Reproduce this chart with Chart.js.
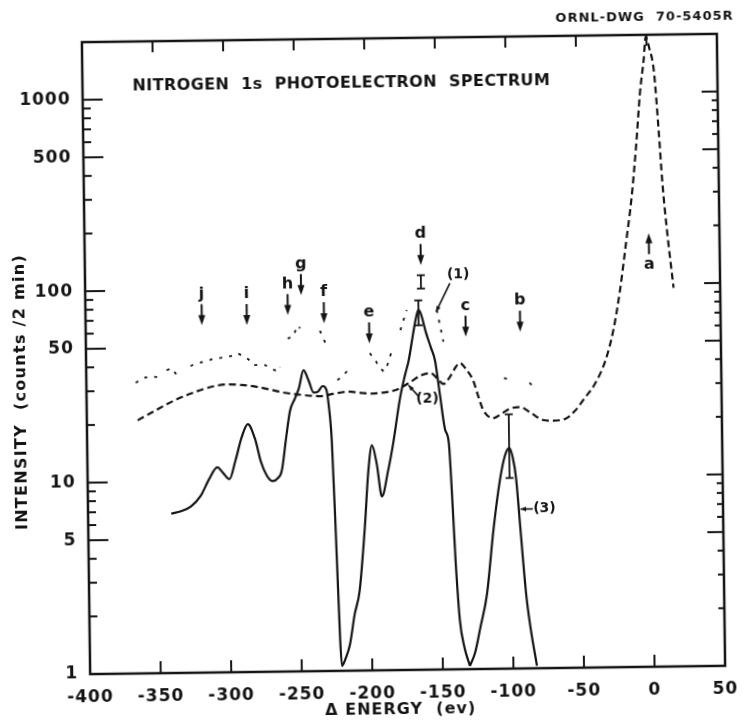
<!DOCTYPE html>
<html>
<head>
<meta charset="utf-8">
<script src="https://cdn.jsdelivr.net/npm/chart.js@4.4.1/dist/chart.umd.min.js"></script>
<style>
  html, body { margin: 0; padding: 0; background: #fff; overflow: hidden; }
  /* the scanned drawing sits slightly tilted on the page */
  #chart { display: block; transform: rotate(-0.75deg); transform-origin: 403px 354px; }
</style>
</head>
<body>
<canvas id="chart" width="744" height="722"></canvas>
<script>
const INK = "#141414";

// solid curve (1): -340 .. -131 eV
const curve1X = [-341, -334, -327, -320, -314, -308, -303.5, -299.5, -295, -290.5, -286, -281, -277, -273, -269, -265.5, -262.3,
  -259, -256, -252.5, -249.5, -246, -242.5, -239, -236, -232.5, -230, -228.6, -226.6, -224.3, -222.5, -221.5, -219, -215.6,
  -212, -208.3, -204, -201, -198.2, -195, -191.6, -187, -183, -178, -174, -171.5, -168, -166, -164, -162, -159, -155.5,
  -152.7, -149.5, -146.3, -143.7, -142, -140, -137.5, -134.5, -130.8];
const curve1Y = [6.8, 7.0, 7.4, 8.4, 10.2, 11.8, 10.9, 10.2, 12.8, 16.8, 19.7, 16.5, 12.5, 10.6, 9.9, 10.2, 11.2,
  16.5, 22.9, 26.5, 30, 37.4, 33, 28.5, 28.8, 30.8, 29.5, 25, 15.9, 4.3, 1.45, 1.06, 1.15, 1.37,
  1.97, 2.6, 5.6, 11, 15, 12, 8.1, 11, 15.5, 26, 35, 41, 57, 68, 76, 71, 58, 48,
  41, 27, 18, 15.2, 8.5, 3.7, 1.8, 1.3, 1.04];

// solid curve (3)
const curve3X = [-130.8, -127, -123.1, -118.1, -112.7, -107.6, -104, -100.9, -98.5, -96.4, -93.8, -90.3, -87.5, -83.3];
const curve3Y = [1.04, 1.22, 1.64, 2.45, 5.46, 9.9, 13, 14.2, 12.6, 9.9, 5.4, 2.44, 1.63, 1.03];

// dashed curve (2) with the main line a
const curve2X = [-364, -355, -348, -338, -328, -314, -300, -290, -282, -270, -261, -248, -235, -225, -215, -205, -199,
  -190, -181, -170, -163, -156, -151, -147, -142, -138, -135, -131, -126, -122, -119, -112, -106, -100, -93, -85, -77,
  -70, -61, -54, -47, -40, -32, -26, -21, -16, -12, -8, -5, -2, -0.5, 2, 5, 8, 10, 13, 17];
const curve2Y = [21, 22.8, 24.3, 26.5, 28.4, 30.7, 31.9, 31.6, 31.1, 29.8, 28.7, 27.8, 27.3, 28, 28.7, 28.2, 27.9,
  28.2, 29, 32, 34.5, 35.4, 33, 31, 34, 38, 39.8, 37, 32.3, 26, 22.5, 20.4, 21.5, 22.8, 23.2, 21.5, 19.8,
  19.6, 20, 22, 25.6, 30, 40, 58, 93, 170, 280, 550, 1000, 1500, 1950, 1700, 1300, 610, 340, 185, 95];

// scattered experimental points (null = gap)
const rawX = [-365, -360, -355, -350, -346, -344.5, -343, -339, -336, -332, -329, -326, -322, -317, -312, -308, -304, -300,
  -296, -293, -289, -285, -281.5, -277, -273, -268, -264, -262.6, -260, -257, -253, -250, -248, -240, -234, -232, -229.4,
  -226, -222, -218, -212, -205, -199, -196, -192, -189, -186, -183.5, -180, -177, -172.3, -160, -151, -146.6, -120,
  -104, -98.4, -92, -86, -82];
const rawY = [33, 34.8, 35.5, 35.2, 34, null, 38.2, 39, 36, 35, null, 40, 41.3, 42, 43, 43.7, 44, 44.5,
  45, 46.3, 45, 43, 40.1, 40, 40, 38, 37, 39, null, 55, 56, 64, 62, null, 60, 55, 50.4,
  null, 33, 35, 38.5, null, 45.3, 43, 38, 36.3, 40, 46, null, 59.6, 75.8, null, 75.5, 51.5, null,
  33, 32.2, null, 31, 29];

// error bars
const errX = [-164, -162, -101];
const errLo = [63, 98, 9.9];
const errHi = [85, 115, 21.3];

// arrow markers: energy, intensity at the arrow tip
const markText = ["j", "i", "h", "g", "f", "e", "d", "c", "b", "a"];
const markX = [-317.6, -285.7, -256.6, -247, -231, -199.1, -161.9, -130.7, -92.1, -0.1];
const markY = [65.3, 64.9, 72.7, 92.3, 65.6, 51.1, 130, 54.5, 57.4, 184];
const markUp = [false, false, false, false, false, false, false, false, false, true];

// curve labels with leader lines
const noteText = ["(1)", "(2)", "(3)"];
const noteX = [-135.5, -158.5, -76.5];
const noteY = [115, 26, 6.8];
const leadX1 = [-141.5, -164.5, -84.8];
const leadY1 = [104, 26.7, 6.8];
const leadX2 = [-151.5, -171.7, -93.5];
const leadY2 = [74, 30.7, 6.8];

// axes
const xTicks = [-350, -300, -250, -200, -150, -100, -50, 0];
const yTicks = [1, 2, 3, 4, 5, 6, 7, 8, 9, 10, 20, 30, 40, 50, 60, 70, 80, 90, 100, 200, 300, 400, 500, 600, 700, 800, 900, 1000];
const yLabels = [1, 5, 10, 50, 100, 500, 1000];

const pairs = (xs, ys) => xs.map((x, i) => ({ x: x, y: ys[i] }));

function line(ctx, x1, y1, x2, y2) {
  ctx.beginPath();
  ctx.moveTo(x1, y1);
  ctx.lineTo(x2, y2);
  ctx.stroke();
}

const inkPlugin = {
  id: "ink",
  beforeDraw(chart) {
    chart.ctx.letterSpacing = "1px";
  },
  afterDraw(chart) {
    const { ctx, chartArea: a, scales: { x, y } } = chart;
    ctx.save();
    ctx.strokeStyle = INK;
    ctx.fillStyle = INK;
    ctx.lineCap = "butt";

    // frame
    ctx.lineWidth = 2.5;
    ctx.strokeRect(a.left, a.top, a.right - a.left, a.bottom - a.top);

    // inward tick marks
    ctx.lineWidth = 2;
    xTicks.forEach(v => {
      const px = x.getPixelForValue(v);
      line(ctx, px, a.bottom, px, a.bottom - 12);
      line(ctx, px, a.top, px, a.top + 11);
    });
    yTicks.forEach(v => {
      const py = y.getPixelForValue(v);
      const major = yLabels.includes(v);
      line(ctx, a.left, py, a.left + (major ? 20 : 8), py);
      line(ctx, a.right, py, a.right - (major ? 16 : 6), py);
    });

    // error bars
    ctx.lineWidth = 1.8;
    errX.forEach((ex, i) => {
      const px = x.getPixelForValue(ex);
      const lo = y.getPixelForValue(errLo[i]);
      const hi = y.getPixelForValue(errHi[i]);
      line(ctx, px, lo, px, hi);
      line(ctx, px - 4, lo, px + 4, lo);
      line(ctx, px - 4, hi, px + 4, hi);
    });

    // arrows and letters
    ctx.font = "bold 16px 'DejaVu Sans'";
    ctx.letterSpacing = "0px";
    ctx.textAlign = "center";
    ctx.textBaseline = "middle";
    ctx.lineWidth = 2;
    markX.forEach((mx, i) => {
      const px = x.getPixelForValue(mx);
      const tip = y.getPixelForValue(markY[i]);
      const d = markUp[i] ? -1 : 1;
      line(ctx, px, tip - d * 21, px, tip - d * 8);
      ctx.beginPath();
      ctx.moveTo(px, tip);
      ctx.lineTo(px - 3.5, tip - d * 10);
      ctx.lineTo(px + 3.5, tip - d * 10);
      ctx.closePath();
      ctx.fill();
      ctx.fillText(markText[i], px, tip - d * 31);
    });

    // curve labels
    ctx.font = "bold 14px 'DejaVu Sans'";
    ctx.lineWidth = 1.6;
    noteText.forEach((t, i) => {
      ctx.fillText(t, x.getPixelForValue(noteX[i]), y.getPixelForValue(noteY[i]));
      const x1 = x.getPixelForValue(leadX1[i]), y1 = y.getPixelForValue(leadY1[i]);
      const x2 = x.getPixelForValue(leadX2[i]), y2 = y.getPixelForValue(leadY2[i]);
      line(ctx, x1, y1, x2, y2);
      const ang = Math.atan2(y2 - y1, x2 - x1);
      ctx.beginPath();
      ctx.moveTo(x2, y2);
      ctx.lineTo(x2 - 6 * Math.cos(ang - 0.4), y2 - 6 * Math.sin(ang - 0.4));
      ctx.lineTo(x2 - 6 * Math.cos(ang + 0.4), y2 - 6 * Math.sin(ang + 0.4));
      ctx.closePath();
      ctx.fill();
    });

    // titles
    ctx.font = "bold 16px 'DejaVu Sans'";
    ctx.letterSpacing = "0.4px";
    ctx.textAlign = "left";
    ctx.fillText("NITROGEN  1s  PHOTOELECTRON  SPECTRUM", 136, 83);

    ctx.font = "bold 13px 'DejaVu Sans'";
    ctx.letterSpacing = "1px";
    ctx.textAlign = "right";
    ctx.fillText("ORNL-DWG  70-5405R", 738, 21);

    ctx.font = "bold 16px 'DejaVu Sans'";
    ctx.textAlign = "center";
    ctx.fillText("\u0394 ENERGY  (ev)", 396, 710);

    ctx.save();
    ctx.translate(21, 387);
    ctx.rotate(-Math.PI / 2);
    ctx.letterSpacing = "1.3px";
    ctx.fillText("INTENSITY  (counts /2 min)", 0, 0);
    ctx.restore();

    ctx.restore();
  }
};

const ctx = document.getElementById("chart").getContext("2d");

const chart = new Chart(ctx, {
  type: "line",
  data: {
    datasets: [
      {
        label: "(1)",
        data: pairs(curve1X, curve1Y),
        borderColor: INK,
        borderWidth: 2.2,
        pointRadius: 0,
        tension: 0.4,
        cubicInterpolationMode: "monotone"
      },
      {
        label: "(3)",
        data: pairs(curve3X, curve3Y),
        borderColor: INK,
        borderWidth: 2.2,
        pointRadius: 0,
        tension: 0.4,
        cubicInterpolationMode: "monotone"
      },
      {
        label: "(2)",
        data: pairs(curve2X, curve2Y),
        borderColor: INK,
        borderWidth: 2.2,
        borderDash: [7, 4],
        pointRadius: 0,
        tension: 0.4,
        cubicInterpolationMode: "monotone"
      },
      {
        label: "points",
        data: pairs(rawX, rawY),
        borderColor: INK,
        borderWidth: 1.8,
        borderDash: [3, 7],
        pointRadius: 0,
        spanGaps: false,
        tension: 0
      }
    ]
  },
  options: {
    responsive: false,
    animation: false,
    layout: { padding: { top: 38, right: 23, left: 0, bottom: 0 } },
    plugins: {
      legend: { display: false },
      tooltip: { enabled: false }
    },
    scales: {
      x: {
        type: "linear",
        min: -400,
        max: 50,
        grid: { display: false },
        border: { display: false },
        ticks: {
          stepSize: 50,
          autoSkip: false,
          maxRotation: 0,
          padding: 5,
          color: INK,
          font: { family: "'DejaVu Sans'", size: 17, weight: "bold" },
          callback: v => String(v)
        },
        afterFit(scale) { scale.height = 52; }
      },
      y: {
        type: "logarithmic",
        min: 1,
        max: 2000,
        grid: { display: false },
        border: { display: false },
        afterBuildTicks(scale) { scale.ticks = yTicks.map(v => ({ value: v })); },
        ticks: {
          autoSkip: false,
          padding: 4,
          color: INK,
          font: { family: "'DejaVu Sans'", size: 17, weight: "bold" },
          callback: v => (yLabels.includes(v) ? String(v) : "")
        },
        afterFit(scale) { scale.width = 86; }
      }
    }
  },
  plugins: [inkPlugin]
});
</script>
</body>
</html>
